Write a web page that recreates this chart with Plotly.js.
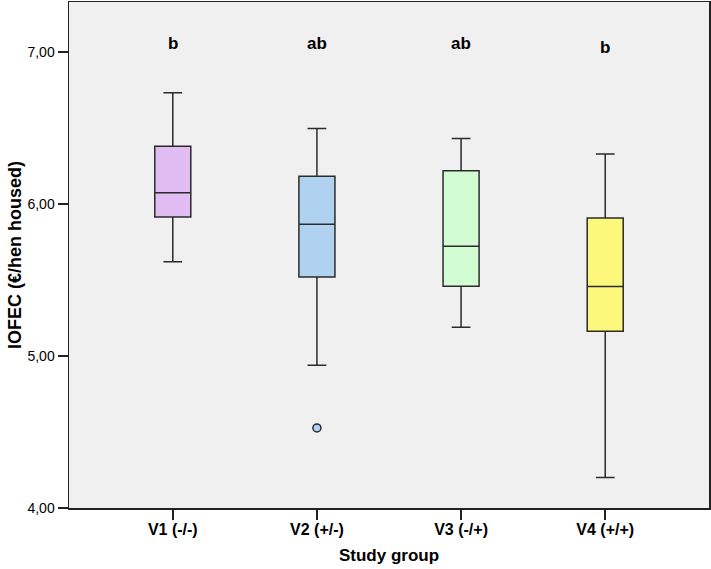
<!DOCTYPE html>
<html>
<head>
<meta charset="utf-8">
<script src="https://cdn.plot.ly/plotly-3.0.1.min.js"></script>
<style>html,body{margin:0;padding:0;background:#fff;}</style>
</head>
<body>
<div id="chart" style="width:711px;height:569px;"></div>
<script>
const groups = ['V1 (-/-)', 'V2 (+/-)', 'V3 (-/+)', 'V4 (+/+)'];
const lowerWhisker = [5.62, 4.94, 5.19, 4.20];
const q1Values = [5.915, 5.52, 5.46, 5.163];
const medianValues = [6.075, 5.867, 5.722, 5.457];
const q3Values = [6.38, 6.183, 6.22, 5.909];
const upperWhisker = [6.732, 6.497, 6.431, 6.33];
const fillColors = ['#e0bcf3', '#aed2ef', '#d2fdd2', '#fbf87b'];
const outlierGroup = ['V2 (+/-)'];
const outlierValues = [4.527];
const sigLetters = ['b', 'ab', 'ab', 'b'];
const sigLetterY = [7.057, 7.055, 7.055, 7.03];
const yTickValues = [4, 5, 6, 7];
const yTickLabels = ['4,00', '5,00', '6,00', '7,00'];

const lineCol = '#2b2b2b';
const FONT = 'Liberation Sans, Arial, sans-serif';
const traces = groups.map((g, i) => ({
  type: 'box',
  x: [g],
  q1: [q1Values[i]],
  median: [medianValues[i]],
  q3: [q3Values[i]],
  lowerfence: [lowerWhisker[i]],
  upperfence: [upperWhisker[i]],
  width: 0.25,
  whiskerwidth: 0.52,
  fillcolor: fillColors[i],
  line: {color: lineCol, width: 1.5},
  boxpoints: false,
  hoverinfo: 'skip',
  showlegend: false
}));
traces.push({
  type: 'scatter',
  mode: 'markers',
  x: outlierGroup,
  y: outlierValues,
  marker: {size: 8, color: fillColors[1], line: {color: lineCol, width: 1.5}},
  showlegend: false,
  hoverinfo: 'skip'
});

const annotations = groups.map((g, i) => ({
  x: g, y: sigLetterY[i], xref: 'x', yref: 'y',
  text: '<b>' + sigLetters[i] + '</b>',
  showarrow: false,
  font: {family: FONT, size: 17, color: '#000'}
}));

const layout = {
  width: 711, height: 569,
  margin: {l: 69, r: 2, t: 2, b: 61},
  paper_bgcolor: '#ffffff',
  plot_bgcolor: '#f0f0f0',
  font: {family: FONT, color: '#000'},
  showlegend: false,
  xaxis: {
    type: 'category',
    categoryarray: groups,
    range: [-0.72, 3.72],
    showline: true, mirror: true, linecolor: '#222', linewidth: 1.5,
    ticks: 'outside', ticklen: 10, tickwidth: 1.5, tickcolor: '#222',
    showgrid: false, zeroline: false,
    tickfont: {size: 16, family: FONT, weight: 'bold'},
    ticklabelstandoff: -4,
    title: {text: '<b>Study group</b>', font: {size: 17}, standoff: 12}
  },
  yaxis: {
    range: [4, 7.33],
    tickvals: yTickValues,
    ticktext: yTickLabels,
    showline: true, mirror: true, linecolor: '#222', linewidth: 1.5,
    ticks: 'outside', ticklen: 10, tickwidth: 1.5, tickcolor: '#222',
    showgrid: false, zeroline: false,
    tickfont: {size: 14},
    ticklabelstandoff: 0,
    title: {text: '<b>IOFEC (€/hen housed)</b>', font: {size: 18}, standoff: 1}
  },
  annotations: annotations
};

Plotly.newPlot('chart', traces, layout, {displayModeBar: false, staticPlot: true});
</script>
</body>
</html>
